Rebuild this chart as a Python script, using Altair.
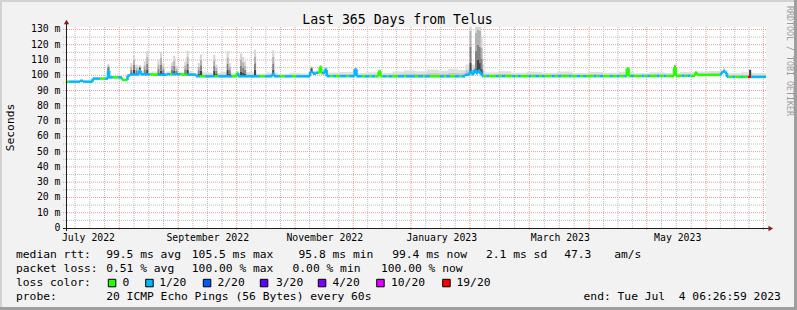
import bisect
import altair as alt
import pandas as pd

# ---------------- data ----------------
# median RTT (ms) as a step series; day = days since the graph start (Jul 4 2022 06:27)
med_day = [0, 6.8, 8.4, 13.4, 21.4, 22.0, 28.7, 31.6, 33.0, 37.6,
           38.4, 45.0, 52.0, 60.0, 67.4, 88.6, 89.4, 107.3, 108.1, 126.9,
           128.5, 130.0, 132.0, 132.8, 134.6, 135.6, 150.2, 151.2, 162.7, 163.7,
           207.8, 210.2, 211.3, 212.4, 213.5, 214.6, 215.7, 216.7, 292.3, 293.3,
           317.0, 317.9, 328.0, 328.9, 341.5, 342.6, 343.6, 344.6]
med_val = [95.8, 96.4, 95.8, 97.8, 103.0, 98.6, 96.9, 99.8, 100.5, 103.2,
           100.6, 100.3, 100.7, 100.4, 99.3, 101.6, 99.3, 101.0, 99.3, 102.2,
           101.0, 101.6, 105.5, 101.4, 103.6, 99.4, 103.8, 99.3, 102.4, 99.3,
           100.3, 102.2, 100.6, 103.4, 101.4, 103.0, 101.0, 99.4, 104.4, 99.5,
           105.2, 99.6, 101.6, 100.2, 101.8, 102.6, 101.5, 98.9]

# stretches where the median line is drawn in the "0 loss" colour (rest is 1/20)
green_from = [0, 17.2, 24.0, 28.7, 43.3, 53.8, 59.0, 69.5, 77.3, 86.2, 100.8, 111.2,
              117.5, 131.1, 137.5, 140.5, 146.0, 154.0, 158.0, 161.1, 167.0, 169.7,
              176.0, 181.7, 186.0, 189.6, 197.0, 200.0, 205.0,
              217.5, 220.5, 225.5, 229.0, 234.0, 237.0, 242.5, 246.5, 249.5, 255.0,
              258.0, 263.5, 268.0, 271.0, 276.5, 280.0, 285.0, 288.5, 292.0, 296.0,
              301.5, 304.5, 309.5, 313.0, 322.5, 325.5, 328.0, 345.5, 349.0, 353.0]
green_to = [1.0, 19.8, 26.6, 31.3, 47.5, 54.8, 62.7, 72.1, 78.9, 89.3, 103.4, 113.8,
            119.6, 133.2, 139.0, 142.6, 147.0, 155.6, 159.0, 164.8, 168.0, 172.8,
            177.0, 183.3, 187.0, 194.8, 198.0, 202.6, 206.0,
            219.0, 224.0, 227.0, 232.5, 235.5, 241.0, 244.5, 248.0, 253.0, 256.5,
            262.0, 266.0, 269.5, 275.0, 278.0, 283.5, 287.0, 291.0, 294.5, 300.0,
            303.0, 308.0, 311.5, 321.0, 324.0, 328.0, 341.0, 347.5, 352.0, 355.3]
# stretch drawn in the "19/20 loss" colour
red_from = [355.6]
red_to = [357.2]

# light background smoke (upper edge, ms)
smoke_day = [0, 13.4, 21.4, 22.5, 28.7, 31.6, 33, 36, 40, 44, 48, 52, 57, 61, 66,
             70, 75, 80, 86, 92, 98, 104, 110, 116, 122, 127, 136, 142, 150, 156,
             163, 170, 176, 182, 188, 194, 199, 204, 208, 218, 225, 232, 240, 248,
             256, 264, 272, 280, 288, 296, 304, 312, 320, 328, 335, 341, 345, 352, 358]
smoke_top = [96.2, 98.5, 99.3, 99.8, 97.5, 101.0, 102.0, 102.8, 101.8, 102.5, 101.6,
             102.6, 101.9, 102.8, 101.3, 102.0, 101.5, 102.2, 101.4, 102.0, 101.2,
             101.8, 101.0, 101.6, 101.2, 103.0, 101.8, 102.2, 101.5, 102.0, 101.6,
             102.5, 103.2, 102.6, 103.8, 103.0, 104.2, 103.4, 107.0, 101.8, 102.6,
             101.6, 102.3, 101.7, 102.4, 101.5, 102.2, 101.6, 102.3, 101.4, 102.0,
             101.5, 102.1, 102.4, 102.8, 103.5, 101.3, 101.9, 101.5]

# smoke spikes: day, highest ping (ms), top of the dense dark part (ms)
spike_day = [21.6, 33.6, 35.0, 36.3, 38.0, 40.6, 41.9, 47.8, 49.1, 50.3,
             54.8, 56.0, 57.2, 61.8, 63.0, 68.8, 70.0, 76.9, 78.0, 83.9,
             85.0, 90.9, 92.0, 93.0, 98.2, 107.7, 127.7, 132.4, 135.1, 150.7,
             163.2, 210.7, 213.6, 214.6, 215.7, 216.5, 292.8, 317.5, 328.5, 343.1, 356.7]
spike_top = [107.5, 108.0, 113.3, 107.0, 106.7, 109.0, 116.0, 110.0, 115.4, 108.0,
             108.5, 112.8, 106.0, 109.0, 116.1, 108.0, 113.7, 113.3, 107.0, 115.9,
             108.0, 114.4, 112.0, 109.0, 116.8, 116.4, 106.0, 106.5, 105.5, 105.0,
             104.0, 140.0, 140.0, 140.0, 140.0, 125.0, 105.5, 107.2, 102.8, 104.5, 104.0]
spike_dark = [104.5, 101.5, 103.5, 101.5, 105.0, 101.5, 103.5, 101.5, 103.0, 101.5,
              101.5, 103.0, 101.5, 101.5, 103.5, 101.0, 103.0, 103.0, 101.0, 103.5,
              101.0, 102.5, 101.5, 101.0, 103.5, 103.5, 104.6, 105.6, 104.0, 104.0,
              102.8, 108.0, 104.0, 110.0, 108.0, 104.0, 104.6, 106.0, 102.0, 103.0, 103.5]

# axis grid / labels
major_day = [27.3, 58.1, 88.6, 119.1, 149.5, 179.6, 210.4, 241.4, 272.7, 302.7, 333.7, 363.6]
month_label_day = [11.2, 73.5, 134.6, 195.7, 257.6, 318.9]
month_label = ["July 2022", "September 2022", "November 2022",
               "January 2023", "March 2023", "May 2023"]
y_major = list(range(0, 131, 10))
y_minor = list(range(5, 130, 10))

loss_names = ["0", "1/20", "2/20", "3/20", "4/20", "10/20", "19/20"]
loss_colors = ["#26ff00", "#00b8ff", "#0059ff", "#5e00ff", "#7e00ff", "#dd00ff", "#ff0000"]

legend_texts = [
    "median rtt:", "99.5 ms avg", "105.5 ms max", "95.8 ms min", "99.4 ms now",
    "2.1 ms sd", "47.3", "am/s",
    "packet loss:", "0.51 % avg", "100.00 % max", "0.00 % min", "100.00 % now",
    "loss color:",
    "probe:", "20 ICMP Echo Pings (56 Bytes) every 60s",
]
end_text = "end: Tue Jul  4 06:26:59 2023"
title_text = "Last 365 Days from Telus"

# ---------------- layout ----------------
W, H = 699, 201
OX, OY = 67, 27
TOTAL_W, TOTAL_H = 797, 310
XDOM = [0, 365]
YDOM = [0, 131.6]
FONT = "DejaVu Sans Mono"
LINE_W = 2.5
L1, L2, L3, L4 = 257.7, 271.7, 285.7, 299.7
legend_x = [16, 106.2, 191.8, 298.5, 392.2, 486, 564.2, 614.2,
            16, 106.2, 191.8, 292.5, 381,
            16,
            16, 106.2]
legend_y = [L1] * 8 + [L2] * 5 + [L3] + [L4] * 2
swatch_x = [108.3, 145.7, 203.3, 260.3, 318.3, 376.7, 442.7]
swatch_label_x = [122.5, 159.2, 217.5, 276, 332.5, 391, 456.5]

NB = "\u00a0"


def nb(s):
    return s.replace(" ", NB)


def med_at(t):
    i = bisect.bisect_right(med_day, t) - 1
    return med_val[max(i, 0)]


def smoke_at(t):
    i = bisect.bisect_right(smoke_day, t) - 1
    return smoke_top[max(i, 0)]


xs = alt.Scale(domain=XDOM, nice=False, zero=False)
ys = alt.Scale(domain=YDOM, nice=False, zero=False)
one = pd.DataFrame({"a": [0]})

# ---- grid ----
minor_day = []
q0 = (major_day[1] - major_day[0]) / 4
for k in (3, 2, 1):
    minor_day.append(major_day[0] - k * q0)
for a, b in zip(major_day[:-1], major_day[1:]):
    q = (b - a) / 4
    minor_day += [a + q, a + 2 * q, a + 3 * q]

MINOR = "#bdbdbd"
MAJOR = "#e99a9a"
grid = [
    alt.Chart(pd.DataFrame({"day": minor_day})).mark_rule(
        stroke=MINOR, strokeDash=[1, 1], strokeWidth=1).encode(
        x=alt.X("day:Q", scale=xs, axis=None), y=alt.value(0), y2=alt.value(H)),
    alt.Chart(pd.DataFrame({"v": y_minor})).mark_rule(
        stroke=MINOR, strokeDash=[1, 1], strokeWidth=1).encode(
        y=alt.Y("v:Q", scale=ys, axis=None), x=alt.value(-4), x2=alt.value(W)),
    alt.Chart(pd.DataFrame({"day": major_day})).mark_rule(
        stroke=MAJOR, strokeDash=[1, 1], strokeWidth=1).encode(
        x=alt.X("day:Q", scale=xs, axis=None), y=alt.value(0), y2=alt.value(H + 3)),
    alt.Chart(pd.DataFrame({"v": y_major[1:]})).mark_rule(
        stroke=MAJOR, strokeDash=[1, 1], strokeWidth=1).encode(
        y=alt.Y("v:Q", scale=ys, axis=None), x=alt.value(-4), x2=alt.value(W)),
]

# ---- smoke background ----
days = sorted(set(smoke_day + med_day + [XDOM[1]]))
srows = []
for t in days:
    base = med_at(t)
    top = max(smoke_at(t), base)
    srows.append({"day": t, "base": base, "top": top, "mid": base + 0.45 * (top - base)})
sdf = pd.DataFrame(srows)
smoke = [
    alt.Chart(sdf).mark_area(interpolate="step-after", color="#e0e0e0").encode(
        x=alt.X("day:Q", scale=xs, axis=None), y=alt.Y("base:Q", scale=ys, axis=None), y2="top:Q"),
    alt.Chart(sdf).mark_area(interpolate="step-after", color="#c6c6c6").encode(
        x=alt.X("day:Q", scale=xs, axis=None), y=alt.Y("base:Q", scale=ys, axis=None), y2="mid:Q"),
]

# ---- smoke spikes ----
band_cols = ["#444444", "#848484", "#b2b2b2", "#d6d6d6"]
prow = []
HW = 0.55
for d, top, dark in zip(spike_day, spike_top, spike_dark):
    base = med_at(d)
    lo = min(base, dark)
    edges = [lo, dark, dark + (top - dark) / 3, dark + 2 * (top - dark) / 3, top]
    for b in range(4):
        prow.append({"x0": d - HW, "x1": d + HW, "y0": edges[b], "y1": edges[b + 1],
                     "band": f"b{b}"})
pdf = pd.DataFrame(prow)
spikes = alt.Chart(pdf).mark_bar(clip=True).encode(
    x=alt.X("x0:Q", scale=xs, axis=None), x2="x1:Q",
    y=alt.Y("y0:Q", scale=ys, axis=None), y2="y1:Q",
    color=alt.Color("band:N", scale=alt.Scale(domain=["b0", "b1", "b2", "b3"], range=band_cols),
                    legend=None),
)

# ---- median line, coloured by loss ----
GREEN, BLUE, RED = loss_colors[0], loss_colors[1], loss_colors[6]
coloured = sorted([(a, b, GREEN) for a, b in zip(green_from, green_to)] +
                  [(a, b, RED) for a, b in zip(red_from, red_to)])
pieces = []
cur = XDOM[0]
for a, b, c in coloured:
    if a > cur:
        pieces.append((cur, a, BLUE))
    if b > max(a, cur):
        pieces.append((max(a, cur), b, c))
    cur = max(cur, b)
if cur < XDOM[1]:
    pieces.append((cur, XDOM[1], BLUE))


def colour_at(t):
    for a, b, c in pieces:
        if a <= t < b:
            return c
    return BLUE


hrows = []
for a, b, c in pieces:
    cuts = [a] + [d for d in med_day if a < d < b] + [b]
    for i in range(len(cuts) - 1):
        hrows.append({"x0": cuts[i], "x1": cuts[i + 1], "y": med_at(cuts[i]), "c": c})
vrows = []
for d in med_day[1:]:
    vrows.append({"x": d, "y0": med_at(d - 1e-6), "y1": med_at(d), "c": colour_at(d)})

median_h = alt.Chart(pd.DataFrame(hrows)).mark_rule(strokeWidth=LINE_W).encode(
    x=alt.X("x0:Q", scale=xs, axis=None), x2="x1:Q",
    y=alt.Y("y:Q", scale=ys, axis=None),
    color=alt.Color("c:N", scale=None))
median_v = alt.Chart(pd.DataFrame(vrows)).mark_rule(strokeWidth=LINE_W).encode(
    x=alt.X("x:Q", scale=xs, axis=None),
    y=alt.Y("y0:Q", scale=ys, axis=None), y2="y1:Q",
    color=alt.Color("c:N", scale=None))

# ---- axes ----
AXIS = "#1f1f1f"
ARROW = "#801f1f"
axes = [
    alt.Chart(one).mark_rule(color=AXIS, strokeWidth=1).encode(
        x=alt.value(-4), x2=alt.value(W + 3), y=alt.value(H + 0.5)),
    alt.Chart(one).mark_rule(color=AXIS, strokeWidth=1).encode(
        x=alt.value(-0.5), y=alt.value(-4), y2=alt.value(H + 3)),
    alt.Chart(one).mark_point(shape="triangle-right", filled=True, size=28, color=ARROW, opacity=1).encode(
        x=alt.value(W + 4.8), y=alt.value(H + 0.5)),
    alt.Chart(one).mark_point(shape="triangle-up", filled=True, size=28, color=ARROW, opacity=1).encode(
        x=alt.value(-0.5), y=alt.value(-5)),
]

# ---- texts ----
ylab = pd.DataFrame({"v": y_major,
                     "t": [("0" + NB + NB) if v == 0 else f"{v}{NB}m" for v in y_major]})
ytext = alt.Chart(ylab).mark_text(font=FONT, fontSize=9.8, align="right", baseline="middle",
                                  color="#000000").encode(
    y=alt.Y("v:Q", scale=ys, axis=None), x=alt.value(-6.5), text="t:N")

xlab = pd.DataFrame({"day": month_label_day, "t": month_label})
xtext = alt.Chart(xlab).mark_text(font=FONT, fontSize=9.8, align="center", baseline="alphabetic",
                                  color="#000000").encode(
    x=alt.X("day:Q", scale=xs, axis=None), y=alt.value(241.4 - OY), text="t:N")

title = alt.Chart(one).mark_text(font=FONT, fontSize=13.2, align="center", baseline="alphabetic",
                                 color="#000000", text=title_text).encode(
    x=alt.value(397.5 - OX), y=alt.value(24 - OY))

ylabel = alt.Chart(one).mark_text(font=FONT, fontSize=11.3, align="center", baseline="middle",
                                  angle=270, color="#000000", text="Seconds").encode(
    x=alt.value(10.7 - OX), y=alt.value(127.5 - OY))

water = alt.Chart(one).mark_text(font=FONT, fontSize=8.3, align="center", baseline="middle",
                                 angle=90, color="#9c9c9c", text="RRDTOOL / TOBI OETIKER").encode(
    x=alt.value(789 - OX), y=alt.value(61 - OY))

leg = pd.DataFrame({"t": [nb(s) for s in legend_texts],
                    "px": [x - OX for x in legend_x],
                    "py": [y - OY for y in legend_y]})
legend_layer = alt.Chart(leg).mark_text(font=FONT, fontSize=11.3, align="left",
                                        baseline="alphabetic", color="#000000").encode(
    x=alt.X("px:Q", scale=None), y=alt.Y("py:Q", scale=None), text="t:N")

swl = pd.DataFrame({"t": loss_names, "px": [x - OX for x in swatch_label_x],
                    "py": [L3 - OY] * len(loss_names)})
swatch_labels = alt.Chart(swl).mark_text(font=FONT, fontSize=11.3, align="left",
                                         baseline="alphabetic", color="#000000").encode(
    x=alt.X("px:Q", scale=None), y=alt.Y("py:Q", scale=None), text="t:N")

sw = pd.DataFrame({"x0": [x - OX for x in swatch_x], "x1": [x + 7.5 - OX for x in swatch_x],
                   "y0": [279.3 - OY] * 7, "y1": [286.8 - OY] * 7, "c": loss_colors})
swatches = alt.Chart(sw).mark_rect(stroke="#000000", strokeWidth=1).encode(
    x=alt.X("x0:Q", scale=None), x2="x1:Q", y=alt.Y("y0:Q", scale=None), y2="y1:Q",
    color=alt.Color("c:N", scale=None))

end_layer = alt.Chart(one).mark_text(font=FONT, fontSize=11.3, align="right", baseline="alphabetic",
                                     color="#000000", text=nb(end_text)).encode(
    x=alt.value(780.8 - OX), y=alt.value(L4 - OY))

# ---- frame ----
frame = [
    alt.Chart(one).mark_rule(color="#d2d2d2", strokeWidth=2).encode(
        x=alt.value(-OX), x2=alt.value(TOTAL_W - OX), y=alt.value(1 - OY)),
    alt.Chart(one).mark_rule(color="#d2d2d2", strokeWidth=2).encode(
        x=alt.value(1 - OX), y=alt.value(-OY), y2=alt.value(TOTAL_H - OY)),
    alt.Chart(one).mark_rule(color="#9e9e9e", strokeWidth=3).encode(
        x=alt.value(TOTAL_W - 1.5 - OX), y=alt.value(-OY), y2=alt.value(TOTAL_H - OY)),
    alt.Chart(one).mark_rule(color="#9e9e9e", strokeWidth=3).encode(
        x=alt.value(-OX), x2=alt.value(TOTAL_W - OX), y=alt.value(TOTAL_H - 1.5 - OY)),
]

layers = (grid + smoke + [spikes, median_v, median_h] + axes +
          [ytext, xtext, title, ylabel, water, legend_layer, swatch_labels, swatches, end_layer] +
          frame)

chart = alt.layer(*layers).resolve_scale(x="independent", y="independent", color="independent").properties(
    width=W, height=H,
    autosize=alt.AutoSizeParams(type="none"),
    padding={"left": OX, "top": OY, "right": TOTAL_W - OX - W, "bottom": TOTAL_H - OY - H},
    background="#f2f2f2",
).configure_view(fill="#ffffff", stroke=None)

chart.save("out.html", embed_options={"renderer": "svg", "actions": False})
